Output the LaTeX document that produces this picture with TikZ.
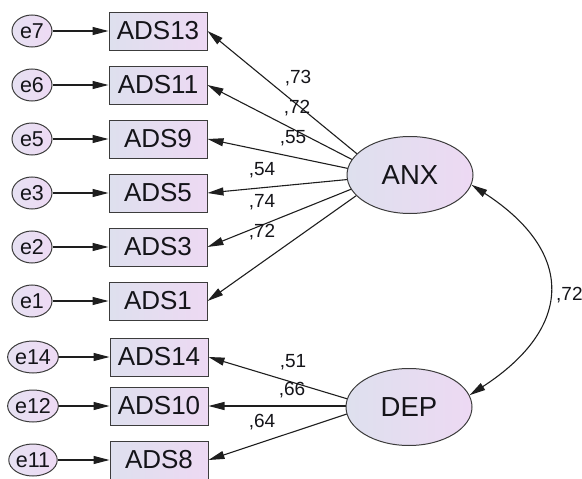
\documentclass[tikz,border=0pt]{standalone}
\usepackage{fontspec}
\setmainfont{Liberation Sans}
\usetikzlibrary{arrows.meta,backgrounds,shapes.geometric}
\definecolor{boxL}{RGB}{222,224,238}
\definecolor{boxR}{RGB}{237,217,243}
\definecolor{errL}{RGB}{230,225,242}
\definecolor{errR}{RGB}{238,218,244}
\definecolor{lineC}{RGB}{30,30,30}
\definecolor{edgeC}{RGB}{60,60,60}
\definecolor{txtC}{RGB}{20,20,25}
\begin{document}
\begin{tikzpicture}[x=1pt,y=1pt,
  obsbox/.style={draw=edgeC, line width=1pt, minimum width=98pt, minimum height=38pt,
    inner sep=0pt, left color=boxL, right color=boxR, text=txtC,
    font=\fontsize{26}{26}\selectfont},
  errnode/.style={ellipse, draw=edgeC, line width=1pt, minimum width=40pt, minimum height=32pt,
    inner sep=0pt, left color=errL, right color=errR, text=txtC,
    font=\fontsize{21.5}{21.5}\selectfont},
  latnode/.style={ellipse, draw=edgeC, line width=1pt, minimum width=126pt, minimum height=77pt,
    inner sep=0pt, left color=boxL, right color=boxR, text=txtC,
    font=\fontsize{27.5}{27.5}\selectfont},
  coef/.style={inner sep=0pt, text=txtC, font=\fontsize{19}{19}\selectfont},
  arr/.style={draw=lineC, line width=1.1pt, -{Triangle[length=16pt,width=8pt]}},
  dblarr/.style={draw=lineC, line width=1.1pt, {Triangle[length=16pt,width=8pt]}-{Triangle[length=16pt,width=8pt]}}
]
\useasboundingbox (0,0) rectangle (582,-479);

% observed variables
\node[obsbox] (ADS13) at (158,-31) {ADS13};
\node[obsbox] (ADS11) at (158,-85) {ADS11};
\node[obsbox] (ADS9)  at (158,-139) {ADS9};
\node[obsbox] (ADS5)  at (158,-193) {ADS5};
\node[obsbox] (ADS3)  at (158,-247) {ADS3};
\node[obsbox] (ADS1)  at (158,-301) {ADS1};
\node[obsbox] (ADS14) at (159,-357) {ADS14};
\node[obsbox] (ADS10) at (159,-406) {ADS10};
\node[obsbox] (ADS8)  at (159,-460) {ADS8};

% error terms
\node[errnode] (e7)  at (32,-31) {e7};
\node[errnode] (e6)  at (32,-85) {e6};
\node[errnode] (e5)  at (32,-139) {e5};
\node[errnode] (e3)  at (32,-193) {e3};
\node[errnode] (e2)  at (32,-247) {e2};
\node[errnode] (e1)  at (32,-301) {e1};
\node[errnode] (e14) at (33,-357) {e14};
\node[errnode] (e12) at (33,-406) {e12};
\node[errnode] (e11) at (33,-460) {e11};

% latent variables
\node[latnode] (ANX) at (410,-175) {ANX};
\node[latnode] (DEP) at (409,-407) {DEP};
\coordinate (fANX) at (384,-176);
\coordinate (fDEP) at (371,-406);

% error arrows
\foreach \e/\b in {e7/ADS13,e6/ADS11,e5/ADS9,e3/ADS5,e2/ADS3,e1/ADS1,e14/ADS14,e12/ADS10,e11/ADS8}
  \draw[arr] (\e) -- (\b);

% loadings (drawn beneath the latent ellipses)
\begin{scope}[on background layer]
\foreach \b in {ADS13,ADS11,ADS9,ADS5,ADS3,ADS1}
  \draw[arr] (fANX) -- (\b.east);
\foreach \b in {ADS14,ADS10,ADS8}
  \draw[arr] (fDEP) -- (\b.east);
\end{scope}

% covariance
\draw[dblarr] (ANX.-9) .. controls +(-33:124) and +(33:124) .. (DEP.11);

% coefficients
\node[coef] (c1) at (298,-78) {,73};
\node[coef] (c2) at (297,-108) {,72};
\node[coef] (c3) at (293,-138) {,55};
\node[coef] (c4) at (262,-170) {,54};
\node[coef] (c5) at (262,-202) {,74};
\node[coef] (c6) at (262,-232) {,72};
\node[coef] (c7) at (293,-362) {,51};
\node[coef] (c8) at (292,-390) {,66};
\node[coef] (c9) at (262,-422) {,64};
\node[coef, anchor=west] (c10) at (556,-295) {,72};
\end{tikzpicture}
\end{document}
